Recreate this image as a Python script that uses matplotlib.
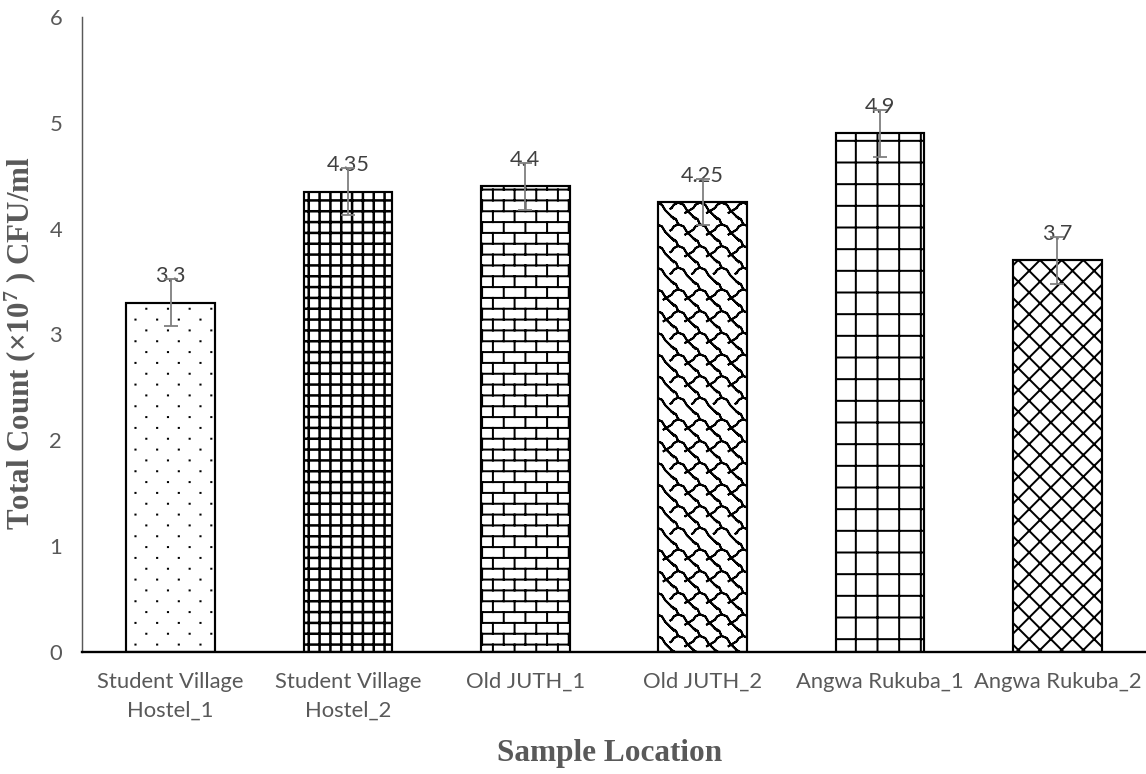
import warnings
import numpy as np
import matplotlib
matplotlib.use('Agg')
import matplotlib.pyplot as plt
import matplotlib.hatch as mhatch
from matplotlib.path import Path

warnings.filterwarnings('ignore')

locations = ['Student Village\nHostel_1', 'Student Village\nHostel_2', 'Old JUTH_1',
             'Old JUTH_2', 'Angwa Rukuba_1', 'Angwa Rukuba_2']
counts = [3.3, 4.35, 4.4, 4.25, 4.9, 3.7]
errors = [0.22, 0.22, 0.22, 0.22, 0.22, 0.22]
value_labels = ['3.3', '4.35', '4.4', '4.25', '4.9', '3.7']
hatches = ['d', '++', 'b', 'w', '+', 'xx']


# custom hatch patterns (dots, brick, wave) like the Excel fills
class LineHatch(mhatch.HatchPatternBase):
    char = ''

    def __init__(self, hatch, density):
        lines = self.build(int(density)) if hatch.count(self.char) else []
        # polylines go out and back so agg's fill of the hatch path has no area
        self.lines = [l + l[-2::-1] if len(l) > 2 else l for l in lines]
        self.num_vertices = sum(len(l) for l in self.lines)

    def set_vertices_and_codes(self, vertices, codes):
        i = 0
        for line in self.lines:
            k = len(line)
            vertices[i:i + k] = line
            codes[i] = Path.MOVETO
            codes[i + 1:i + k] = Path.LINETO
            i += k


class DotHatch(LineHatch):
    char = 'd'

    def build(self, density):
        rows, cols = 2 * density, density
        lines = []
        for i in range(rows):
            y = (i + 0.5) / rows
            for j in range(cols):
                x = (j + 0.25 + 0.5 * (i % 2)) / cols
                lines.append([(x, y), (x + 0.001, y)])
        return lines


class BrickHatch(LineHatch):
    char = 'b'

    def build(self, density):
        rows, cols = 2 * density, density
        lines = []
        for i in range(rows):
            y = (i + 0.5) / rows
            lines.append([(0, y), (1, y)])
        for i in range(-1, rows):
            y0, y1 = (i + 0.5) / rows, (i + 1.5) / rows
            for j in range(-1, cols + 1):
                x = (j + 0.5 * (i % 2) + 0.25) / cols
                lines.append([(x, y0), (x, y1)])
        return lines


class WaveHatch(LineHatch):
    char = 'w'

    def build(self, density):
        s = 1.0 / density
        diag = [(0, 1), (0.2, 0.88), (0.3, 0.65), (0.55, 0.55), (0.7, 0.3), (0.85, 0.15), (1, 0)]
        conn = [(0.3, 0.65), (0.1, 0.55), (0.0, 0.4), (-0.25, 0.25)]
        lines = []
        for ci in range(-1, density + 1):
            for cj in range(-1, density + 1):
                for shape in (diag, conn):
                    lines.append([((ci + u) * s, (cj + v) * s) for u, v in shape])
        return lines


mhatch._hatch_types.extend([DotHatch, BrickHatch, WaveHatch])

plt.rcParams['hatch.linewidth'] = 1.1
plt.rcParams['mathtext.fontset'] = 'custom'
plt.rcParams['mathtext.bf'] = 'Liberation Serif:bold'
plt.rcParams['mathtext.rm'] = 'Liberation Serif:bold'
plt.rcParams['mathtext.default'] = 'bf'

fig = plt.figure(figsize=(1146 / 130, 774 / 130), dpi=130)
ax = fig.add_axes([82 / 1146, 1 - 652 / 774, 1 - 82 / 1146, (652 - 17) / 774])

x = np.arange(len(counts))
bars = ax.bar(x, counts, width=0.5, color='white', edgecolor='black', linewidth=1.2, zorder=2)
for bar, h in zip(bars, hatches):
    bar.set_hatch(h)
    if h == '++' and hasattr(bar, 'set_hatch_linewidth'):
        bar.set_hatch_linewidth(1.4)

for xi, v, lab in zip(x, counts, value_labels):
    ax.text(xi, v + 0.25, lab, ha='center', va='center', color='#404040',
            fontsize=12, family='Lato', zorder=2.5)

ax.errorbar(x, counts, yerr=errors, fmt='none', ecolor='#7f7f7f', elinewidth=1.0,
            capsize=4, capthick=1.0, zorder=3)

ax.set_xlim(-0.5, 5.5)
ax.set_ylim(0, 6)
ax.set_yticks(range(7))
ax.set_xticks(x)
ax.set_xticklabels(locations, family='Lato', linespacing=1.55)
for t in ax.get_yticklabels():
    t.set_family('Lato')
ax.tick_params(axis='both', length=0, labelsize=12.2, labelcolor='#595959')
ax.tick_params(axis='y', pad=11)
ax.tick_params(axis='x', pad=11)

for s in ['top', 'right']:
    ax.spines[s].set_visible(False)
ax.spines['left'].set_color('#595959')
ax.spines['left'].set_linewidth(0.8)
ax.spines['bottom'].set_color('black')
ax.spines['bottom'].set_linewidth(1.3)

fig.text(20 / 1146, 1 - 343 / 774, r'Total Count (×10$^{7}$ ) CFU/ml', rotation=90,
         ha='center', va='center', family='Liberation Serif', weight='bold',
         fontsize=17.2, color='#595959')
fig.text(610 / 1146, 1 - 753 / 774, 'Sample Location', ha='center', va='center',
         family='Liberation Serif', weight='bold', fontsize=17.3, color='#595959')

fig.savefig('out.png', dpi=130)
